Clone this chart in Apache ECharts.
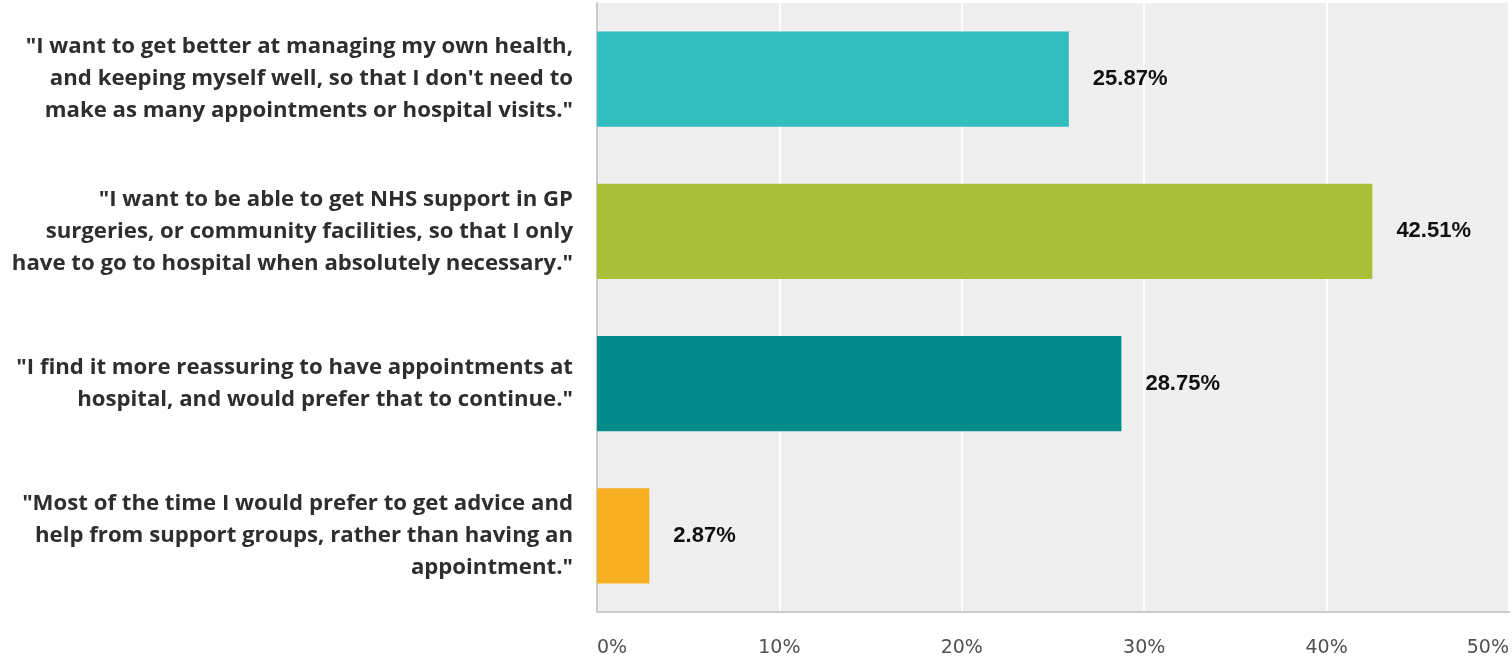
<!DOCTYPE html>
<html>
<head>
<meta charset="utf-8">
<script src="https://cdn.jsdelivr.net/npm/echarts@6/dist/echarts.min.js"></script>
<style>
  html, body { margin: 0; padding: 0; background: #ffffff; }
  #chart { width: 1512px; height: 658px; }
</style>
</head>
<body>
<div id="chart"></div>
<script>
// Survey answers, wrapped as they appear beside the bars
const categories = [
  '"I want to get better at managing my own health,\nand keeping myself well, so that I don\'t need to\nmake as many appointments or hospital visits."',
  '"I want to be able to get NHS support in GP\nsurgeries, or community facilities, so that I only\nhave to go to hospital when absolutely necessary."',
  '"I find it more reassuring to have appointments at\nhospital, and would prefer that to continue."',
  '"Most of the time I would prefer to get advice and\nhelp from support groups, rather than having an\nappointment."'
];
// Share of respondents (%)
const values = [25.87, 42.51, 28.75, 2.87];
const barColors = ['#33bdbf', '#a9bf38', '#008b8a', '#f6b021'];
const tickValues = [0, 10, 20, 30, 40, 50];

const chart = echarts.init(document.getElementById('chart'), null, { renderer: 'canvas' });

chart.setOption({
  animation: false,
  grid: { left: 597, right: 1, top: 3, bottom: 46, containLabel: false,
          show: true, backgroundColor: '#efefef', borderWidth: 0 },
  xAxis: {
    type: 'value',
    min: tickValues[0],
    max: tickValues[tickValues.length - 1],
    interval: 10,
    axisLine: { show: true, lineStyle: { color: '#cbcbcb', width: 2 } },
    axisTick: { show: false },
    splitLine: { show: true, lineStyle: { color: '#ffffff', width: 2 } },
    axisLabel: {
      formatter: v => v + '%',
      color: '#505050',
      fontFamily: 'DejaVu Sans',
      fontSize: 19,
      margin: 27,
      alignMinLabel: 'left',
      alignMaxLabel: 'right'
    }
  },
  yAxis: {
    type: 'category',
    inverse: true,
    data: categories,
    axisLine: { show: true, onZero: false, lineStyle: { color: '#cbcbcb', width: 2 } },
    axisTick: { show: false },
    splitLine: { show: false },
    axisLabel: {
      color: '#2e2e2e',
      fontFamily: 'Open Sans',
      fontWeight: 'bold',
      fontSize: 22.2,
      lineHeight: 32,
      align: 'right',
      margin: 24
    }
  },
  series: [{
    type: 'bar',
    data: values.map((v, i) => ({ value: v, itemStyle: { color: barColors[i] } })),
    barCategoryGap: '37.5%',
    label: {
      show: true,
      position: 'right',
      distance: 24,
      formatter: p => p.value.toFixed(2) + '%',
      color: '#111111',
      fontFamily: 'Liberation Sans',
      fontWeight: 'bold',
      fontSize: 22
    }
  }]
});
</script>
</body>
</html>
